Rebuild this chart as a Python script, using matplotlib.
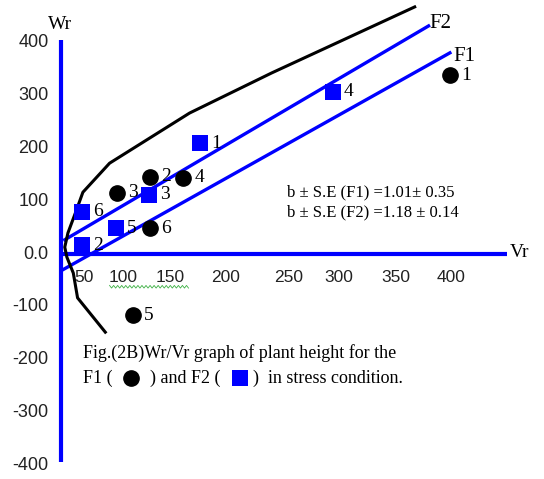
import numpy as np
import matplotlib
matplotlib.use("Agg")
import matplotlib.pyplot as plt

# F1 (black circles) and F2 (blue squares) array points, Vr / Wr
f1_vr = [402, 121, 90, 152, 105, 121]
f1_wr = [339, 146, 116, 144, -116, 49]
f2_vr = [168, 57, 120, 292, 89, 57]
f2_wr = [210, 17, 112, 307, 49, 80]
point_ids = ["1", "2", "3", "4", "5", "6"]

# regression lines (end points)
f1_line_vr = [39, 402]
f1_line_wr = [-30, 381]
f2_line_vr = [41, 382]
f2_line_wr = [27, 432]

# limiting parabola
curve_vr = [369, 235, 158, 83, 58, 51, 44, 41, 43, 49, 53, 79]
curve_wr = [468, 343, 267, 172, 117, 78, 40, 13, -6, -36, -83, -148]

xtick_labels = ["50", "100", "150", "200", "250", "300", "350", "400"]
xtick_at = [59, 96, 140, 192, 251, 298, 351, 403]   # where the labels sit
ytick_vals = [400, 300, 200, 100, 0, -100, -200, -300, -400]
ytick_labels = ["400", "300", "200", "100", "0.0", "-100", "-200", "-300", "-400"]

BLUE = "#0000ff"
SERIF = "Liberation Serif"
SANS = "Liberation Sans"

fig = plt.figure(figsize=(5.44, 4.79), dpi=100)
ax = fig.add_axes([0, 0, 1, 1])
ax.set_xlim(-19.7, 490.2)
ax.set_ylim(-426.1, 481.1)
ax.axis("off")

# axes drawn as thick blue lines
ax.plot([37.5, 37.5], [405, -394], color=BLUE, lw=3.0, solid_capstyle="butt", zorder=3)
ax.plot([37.5, 455.5], [0, 0], color=BLUE, lw=3.0, solid_capstyle="butt", zorder=3)

# regression lines and limiting curve
ax.plot(f1_line_vr, f1_line_wr, color=BLUE, lw=2.4, zorder=3)
ax.plot(f2_line_vr, f2_line_wr, color=BLUE, lw=2.4, zorder=3)
ax.plot(curve_vr, curve_wr, color="black", lw=2.2, zorder=3)

ax.text(383, 437, "F2", family=SERIF, fontsize=15, va="center", ha="left")
ax.text(405, 375, "F1", family=SERIF, fontsize=15, va="center", ha="left")
ax.text(36.5, 434, "Wr", family=SERIF, fontsize=14, va="center", ha="center")
ax.text(458, 2, "Vr", family=SERIF, fontsize=14, va="center", ha="left")

# points
ax.plot(f1_vr, f1_wr, "o", color="black", ms=11, zorder=4)
ax.plot(f2_vr, f2_wr, "s", color=BLUE, ms=11.5, mew=0, zorder=4)
for i, lab in enumerate(point_ids):
    ax.annotate(lab, (f1_vr[i], f1_wr[i]), xytext=(8, 0), textcoords="offset points",
                family=SERIF, fontsize=14, va="center", ha="left")
    ax.annotate(lab, (f2_vr[i], f2_wr[i]), xytext=(8, 0), textcoords="offset points",
                family=SERIF, fontsize=14, va="center", ha="left")

# tick labels
for pos, lab in zip(xtick_at, xtick_labels):
    ax.text(pos, -44, lab, family=SANS, fontsize=12.5, ha="center", va="center",
            color="#222222", zorder=2)
for val, lab in zip(ytick_vals, ytick_labels):
    ax.text(26, val, lab, family=SANS, fontsize=13, ha="right", va="center",
            color="#222222")

# spell-check squiggle under "100 150"
sq_x = np.linspace(83, 157, 40)
sq_y = -62 + np.tile([2.5, -2.5], 20)
ax.plot(sq_x, sq_y, color="#3cb043", lw=0.6)

# regression coefficients
ax.text(249, 116, "b \u00b1 S.E (F1) =1.01\u00b1 0.35", family=SERIF, fontsize=12, va="center")
ax.text(249, 78, "b \u00b1 S.E (F2) =1.18 \u00b1 0.14", family=SERIF, fontsize=12, va="center")

# caption
ax.text(58, -187, "Fig.(2B)Wr/Vr graph of plant height for the", family=SERIF,
        fontsize=13, va="center")
ax.text(58, -235, "F1 (", family=SERIF, fontsize=13, va="center")
ax.plot([103], [-235], "o", color="black", ms=11)
ax.text(121, -235, ") and F2 (", family=SERIF, fontsize=13, va="center")
ax.plot([205], [-235], "s", color=BLUE, ms=11, mew=0)
ax.text(217, -235, ")  in stress condition.", family=SERIF, fontsize=13, va="center")

fig.savefig("out.png", dpi=100)
